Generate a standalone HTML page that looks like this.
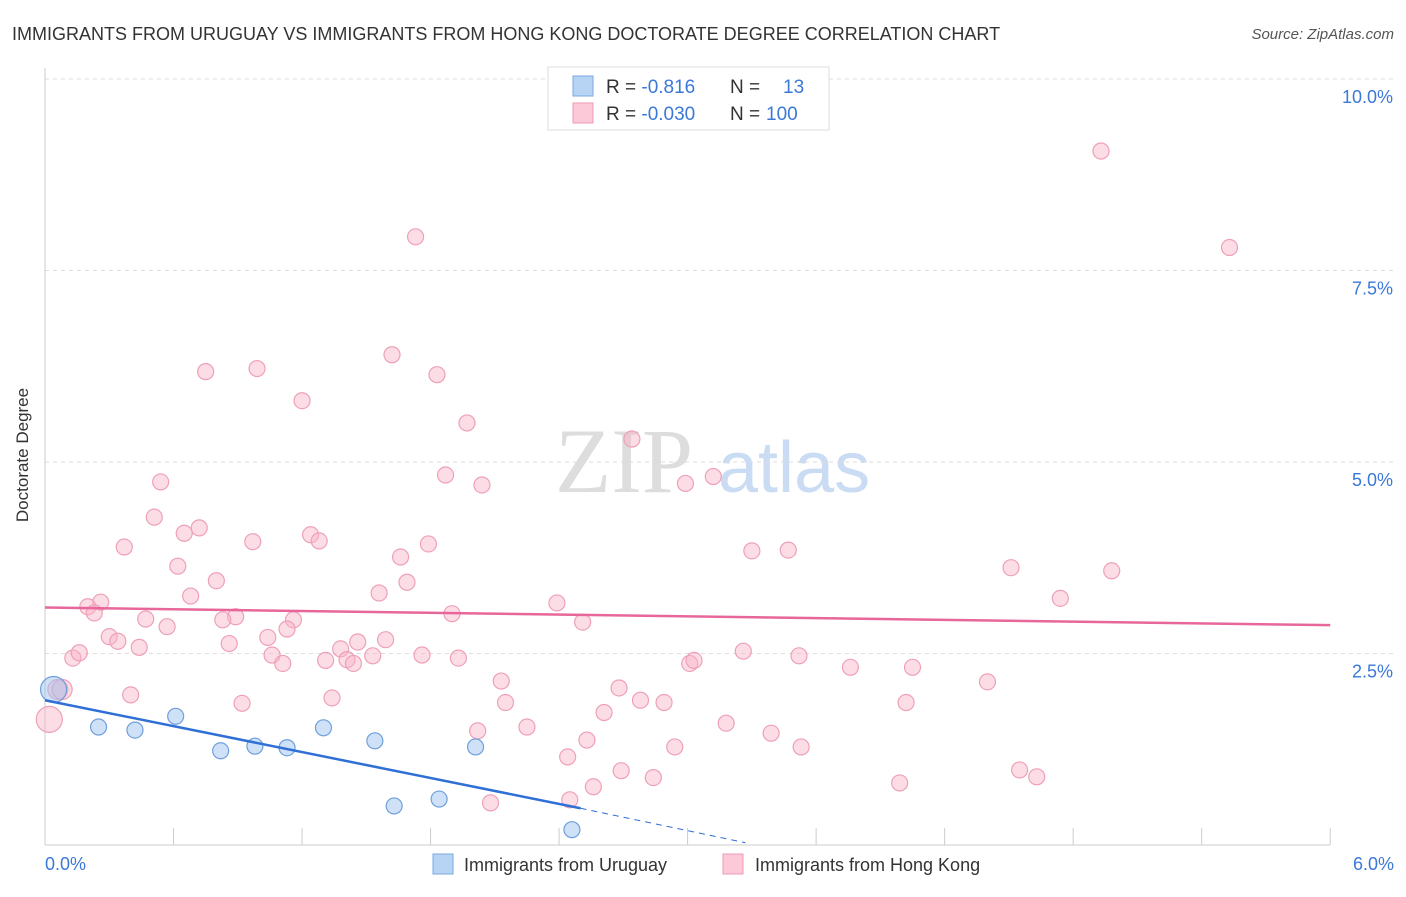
<!DOCTYPE html>
<html><head><meta charset="utf-8"><style>
body{margin:0;background:#fff;font-family:"Liberation Sans",sans-serif}
</style></head><body>
<svg width="1406" height="892" id="chart" font-family="Liberation Sans, sans-serif">
<text x="12" y="40" font-size="18" fill="#333">IMMIGRANTS FROM URUGUAY VS IMMIGRANTS FROM HONG KONG DOCTORATE DEGREE CORRELATION CHART</text>
<text x="1394" y="39" font-size="15" fill="#555" text-anchor="end" font-style="italic">Source: ZipAtlas.com</text>
<text x="28" y="455" font-size="17" fill="#333" text-anchor="middle" transform="rotate(-90 28 455)">Doctorate Degree</text>
<g><text x="555" y="492" font-size="92" fill="#ddd" font-family="Liberation Serif, serif">ZIP</text><text x="718" y="492" font-size="72" fill="#c9dcf3">atlas</text></g>
<g id="grid"></g><g id="axes"></g><g id="marks"></g>
<g>
<rect x="548" y="67" width="281" height="63" fill="#fff" stroke="#ddd"/>
<rect x="573" y="76" width="20" height="20" fill="#b8d4f5" stroke="#7aa8e0"/>
<rect x="573" y="103" width="20" height="20" fill="#fbc9d8" stroke="#ee9ab5"/>
<text x="606" y="93" font-size="19" fill="#333">R = <tspan fill="#3b78d8">-0.816</tspan><tspan x="730">N =</tspan><tspan x="783" fill="#3b78d8">13</tspan></text>
<text x="606" y="120" font-size="19" fill="#333">R = <tspan fill="#3b78d8">-0.030</tspan><tspan x="730">N =</tspan><tspan x="766" fill="#3b78d8">100</tspan></text>
</g>
<g>
<rect x="433" y="854" width="20" height="20" fill="#b8d4f5" stroke="#7aa8e0"/>
<text x="464" y="871" font-size="18" fill="#333">Immigrants from Uruguay</text>
<rect x="723" y="854" width="20" height="20" fill="#fbc9d8" stroke="#ee9ab5"/>
<text x="755" y="871" font-size="18" fill="#333">Immigrants from Hong Kong</text>
</g>
</svg>
<script>
const yTicks=[2.5,5.0,7.5,10.0];
const yTickLabels=["2.5%","5.0%","7.5%","10.0%"];
const xTickLabels=["0.0%","6.0%"];
const uruX=[0.04,0.25,0.42,0.61,0.82,0.98,1.13,1.30,1.54,2.01,1.63,1.84,2.46];
const uruY=[2.03,1.54,1.50,1.68,1.23,1.29,1.27,1.53,1.36,1.28,0.51,0.60,0.20];
const hkX=[4.93,5.53,1.73,1.62,0.75,0.99,1.83,1.20,1.97,2.74,1.87,2.04,2.99,3.12,0.54,0.51,0.72,0.65,0.37,0.97,1.24,1.28,1.79,1.66,3.30,3.47,0.62,0.80,1.69,4.51,4.98,0.68,1.56,4.74,0.26,0.20,0.23,0.47,0.89,0.83,1.16,1.90,2.39,2.51,0.57,1.13,0.30,0.34,0.44,0.86,1.04,1.46,1.59,1.38,0.13,0.16,1.06,1.11,1.31,1.41,1.44,1.53,1.76,1.93,3.26,3.52,3.01,3.03,3.76,4.05,2.13,4.40,0.40,1.34,2.68,0.92,2.15,2.78,2.89,4.02,2.61,3.18,2.25,2.02,3.39,2.53,2.94,3.53,2.44,2.69,4.55,4.63,2.84,2.56,3.99,2.45,2.08,0.02,0.06,0.08];
const hkY=[9.06,7.80,7.94,6.40,6.18,6.22,6.14,5.80,5.51,5.30,4.83,4.70,4.72,4.81,4.74,4.28,4.14,4.07,3.89,3.96,4.05,3.97,3.93,3.76,3.84,3.85,3.64,3.45,3.43,3.62,3.58,3.25,3.29,3.22,3.17,3.11,3.03,2.95,2.98,2.94,2.94,3.02,3.16,2.91,2.85,2.82,2.72,2.66,2.58,2.63,2.71,2.65,2.68,2.56,2.44,2.51,2.48,2.37,2.41,2.42,2.37,2.47,2.48,2.44,2.53,2.47,2.37,2.41,2.32,2.32,2.14,2.13,1.96,1.92,2.05,1.85,1.86,1.89,1.86,1.86,1.73,1.59,1.54,1.49,1.46,1.37,1.28,1.28,1.15,0.97,0.98,0.89,0.88,0.76,0.81,0.59,0.55,1.64,2.03,2.03];
const hkSize=[];
const X=v=>45+v*214.2, Y=v=>845-v*76.6;
const NS="http://www.w3.org/2000/svg";
function mk(t,a,p){const e=document.createElementNS(NS,t);for(const k in a)e.setAttribute(k,a[k]);p.appendChild(e);return e;}
const grid=document.getElementById('grid'),axes=document.getElementById('axes'),marks=document.getElementById('marks');
yTicks.forEach((t,i)=>{const l=mk('line',{x1:45,x2:1394,y1:Y(t),y2:Y(t),stroke:'#ddd','stroke-dasharray':'4,4'},grid);

const tx=mk('text',{x:1393,y:Y(t)+24,'font-size':18,fill:'#3b78d8','text-anchor':'end'},axes);tx.textContent=yTickLabels[i];
});
const ax=mk('line',{x1:45,x2:1330,y1:845,y2:845,stroke:'#ccc'},axes);
const ay=mk('line',{x1:45,x2:45,y1:68,y2:845,stroke:'#ccc'},axes);
for(let i=0;i<=10;i++){const t=mk('line',{x1:X(i*0.6),x2:X(i*0.6),y1:828,y2:845,stroke:'#ccc'},axes);}
[[0,'start',45],[1,'end',1394]].forEach(([i,a,x])=>{const t=mk('text',{x:x,y:870,'font-size':18,fill:'#3b78d8','text-anchor':a},axes);t.textContent=xTickLabels[i];});
hkX.forEach((x,i)=>{const big=i>=97;const c=mk('circle',{cx:X(x),cy:Y(hkY[i]),r:big?(i==97?13:10):8,fill:'rgba(248,180,200,0.45)',stroke:'#eea0b8','stroke-width':1.2},marks);
});
uruX.forEach((x,i)=>{const c=mk('circle',{cx:X(x),cy:Y(uruY[i]),r:i==0?13:8,fill:'rgba(160,195,240,0.5)',stroke:'#6f9fdc','stroke-width':1.2},marks);
});
const hl=mk('line',{x1:X(0),y1:Y(3.10),x2:X(6),y2:Y(2.87),stroke:'#e8679a','stroke-width':2.5},marks);
const ul=mk('line',{x1:X(0),y1:Y(1.89),x2:X(2.5),y2:Y(0.48),stroke:'#2f6fd6','stroke-width':2.5},marks);
const ud=mk('line',{x1:X(2.5),y1:Y(0.48),x2:X(3.27),y2:Y(0.03),stroke:'#2f6fd6','stroke-width':1,'stroke-dasharray':'6,5'},marks);
</script>
</body></html>
